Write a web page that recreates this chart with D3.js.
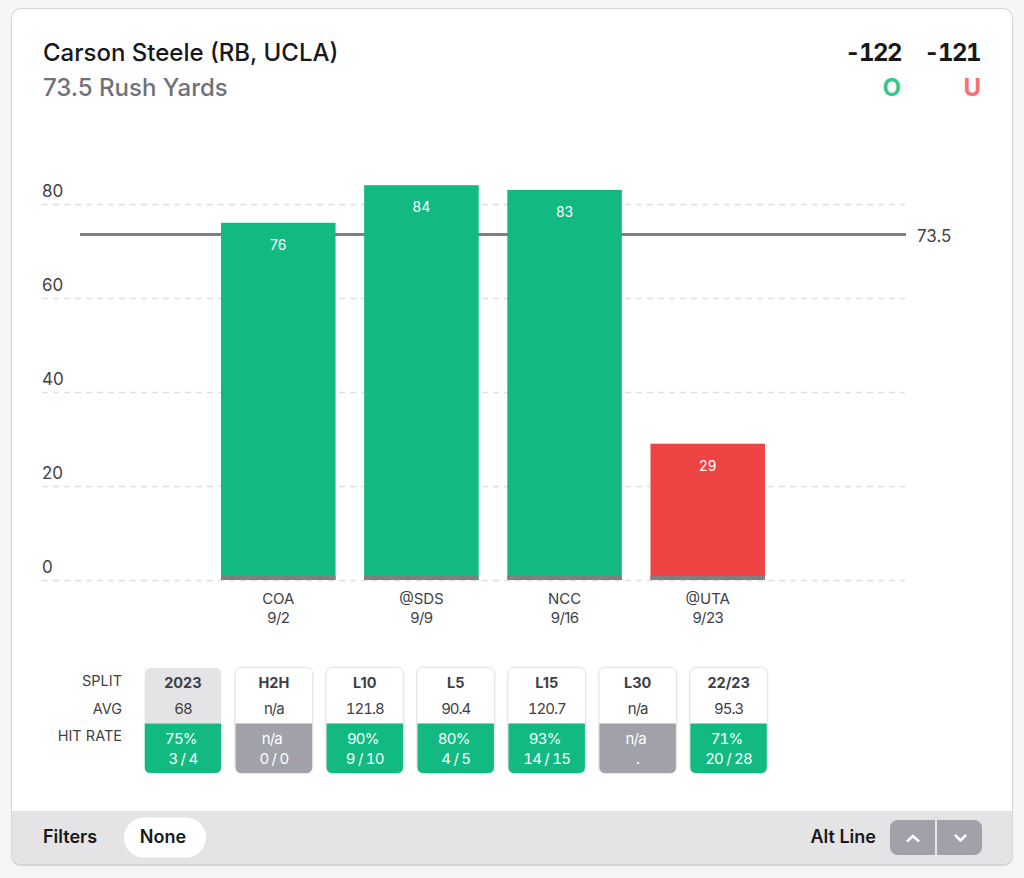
<!DOCTYPE html>
<html>
<head>
<meta charset="utf-8">
<script src="https://cdn.jsdelivr.net/npm/d3@7"></script>
<style>
	html, body { margin: 0; padding: 0; background: #f4f5f5; overflow: hidden; }
	svg { display: block; font-family: Inter, sans-serif; }
	.tab { font-variant-numeric: tabular-nums; }
</style>
</head>
<body>
<div id="chart"></div>
<script>
// Chart data
var opponents = ["COA", "@SDS", "NCC", "@UTA"];
var gameDates = ["9/2", "9/9", "9/16", "9/23"];
var rushYards = [76, 84, 83, 29];
var yTicks = [0, 20, 40, 60, 80];
var propLine = 73.5;

// Split table data
var rowLabels = ["SPLIT", "AVG", "HIT RATE"];
var splits = ["2023", "H2H", "L10", "L5", "L15", "L30", "22/23"];
var averages = ["68", "n/a", "121.8", "90.4", "120.7", "n/a", "95.3"];
var hitRates = ["75%", "n/a", "90%", "80%", "93%", "n/a", "71%"];
var hitCounts = ["3 / 4", "0 / 0", "9 / 10", "4 / 5", "14 / 15", ".", "20 / 28"];

// Width and height of page
var width = 1024;
var height = 878;

var green = "#12ba81";
var red = "#ef4444";
var grey = "#a1a1aa";
var ink = "#18181b";
var mid = "#3f3f46";
var soft = "#71717a";

var svg = d3.select("#chart")
	.append("svg")
	.attr("width", width)
	.attr("height", height);

// Card with shadow, footer clipped to the rounded corners
var defs = svg.append("defs");
defs.append("clipPath").attr("id", "cardClip")
	.append("rect")
	.attr("x", 12).attr("y", 9)
	.attr("width", 1000).attr("height", 855)
	.attr("rx", 9);

svg.append("rect")
	.attr("x", 11).attr("y", 8)
	.attr("width", 1002).attr("height", 858)
	.attr("rx", 10)
	.style("fill", "#d4d4d8");

svg.append("rect")
	.attr("x", 12).attr("y", 9)
	.attr("width", 1000).attr("height", 855)
	.attr("rx", 9)
	.style("fill", "#fff");

svg.append("rect")
	.attr("clip-path", "url(#cardClip)")
	.attr("x", 12).attr("y", 811)
	.attr("width", 1000).attr("height", 55)
	.style("fill", "#e4e4e7");

// Header text
function label(x, y, text, size, weight, color, anchor){
	return svg.append("text")
		.attr("x", x)
		.attr("y", y)
		.attr("text-anchor", anchor || "start")
		.style("font-size", size + "px")
		.style("font-weight", weight)
		.style("fill", color)
		.text(text);
}

label(43, 60.5, "Carson Steele (RB, UCLA)", 24, 500, ink);
label(43, 96, "73.5 Rush Yards", 24, 500, soft);
label(901, 60.5, "-122", 24, 700, ink, "end").attr("class", "tab").style("letter-spacing", "-1.5px");
label(980, 60.5, "-121", 24, 700, ink, "end").attr("class", "tab").style("letter-spacing", "-1.5px");
label(901, 96, "O", 24, 700, "#34c78f", "end");
label(981, 96, "U", 24, 700, "#f87171", "end");

// Scales
var x = d3.scaleBand()
	.domain(opponents)
	.range([221, 765])
	.paddingInner(0.2)
	.paddingOuter(0);

var y = d3.scaleLinear()
	.domain([0, 80])
	.range([580, 204]);

// Y axis: dashed grid lines with the labels sitting above them
var yAxis = svg.append("g")
	.attr("transform", "translate(42,0)")
	.call(d3.axisRight(y).tickValues(yTicks).tickSize(863));

yAxis.select(".domain").remove();
yAxis.selectAll("line")
	.style("stroke", "#dfdfe2")
	.style("stroke-width", 1.5)
	.style("stroke-dasharray", "6 5");
yAxis.selectAll("text")
	.attr("x", 0)
	.attr("dy", -7.5)
	.style("font-family", "Inter, sans-serif")
	.style("font-size", "17px")
	.style("fill", mid);

// Prop line goes under the bars
svg.append("line")
	.attr("x1", 80)
	.attr("x2", 906)
	.attr("y1", y(propLine))
	.attr("y2", y(propLine))
	.style("stroke", "#808080")
	.style("stroke-width", 3);

label(917, y(propLine) + 7, propLine, 17, 400, mid);

// Bars
svg.selectAll("rect.bar")
	.data(rushYards)
	.enter()
	.append("rect")
	.attr("class", "bar")
	.attr("x", function(d, i){ return x(opponents[i]); })
	.attr("y", function(d){ return y(d); })
	.attr("width", x.bandwidth())
	.attr("height", function(d){ return y(0) - y(d); })
	.style("fill", function(d){
		if(d > propLine){
			return green}
		else{
			return red}
	});

// Grey strip along the foot of each bar
svg.selectAll("rect.foot")
	.data(rushYards)
	.enter()
	.append("rect")
	.attr("class", "foot")
	.attr("x", function(d, i){ return x(opponents[i]); })
	.attr("y", y(0) - 4)
	.attr("width", x.bandwidth())
	.attr("height", 4)
	.style("fill", "#808080");

svg.selectAll("text.value")
	.data(rushYards)
	.enter()
	.append("text")
	.attr("class", "value")
	.attr("x", function(d, i){ return x(opponents[i]) + x.bandwidth() / 2; })
	.attr("y", function(d){ return y(d) + 27; })
	.attr("text-anchor", "middle")
	.style("font-size", "14px")
	.style("fill", "#fff")
	.text(function(d){ return d; });

// X axis: opponent and date on two lines
var xAxis = svg.append("g")
	.attr("transform", "translate(0,580)")
	.call(d3.axisBottom(x).tickSize(0));

xAxis.select(".domain").remove();
xAxis.selectAll("text").each(function(d, i){
	var tick = d3.select(this)
		.text(null)
		.attr("y", 0)
		.attr("dy", null)
		.style("font-family", "Inter, sans-serif")
		.style("font-size", "15px")
		.style("fill", mid);
	tick.append("tspan").attr("x", 0).attr("y", 23.5).text(d);
	tick.append("tspan").attr("x", 0).attr("y", 42.5).style("letter-spacing", "-0.6px").text(gameDates[i]);
});

// Split table
var rowY = d3.scalePoint()
	.domain(rowLabels)
	.range([686, 741]);

rowLabels.forEach(function(d){
	label(122, rowY(d), d, 14.5, 400, mid, "end");
});

var splitX = d3.scaleBand()
	.domain(splits)
	.range([143.2, 768.3])
	.paddingInner(0.1266)
	.paddingOuter(0);

var cards = svg.selectAll("g.split")
	.data(splits)
	.enter()
	.append("g")
	.attr("class", "split")
	.attr("transform", function(d){ return "translate(" + splitX(d) + ",0)"; });

cards.each(function(d, i){
	var card = d3.select(this);
	var w = splitX.bandwidth();
	var isFirst = i == 0;
	var isEmpty = hitCounts[i] == "0 / 0" || hitCounts[i] == ".";
	var bottom = isEmpty ? grey : green;

	// Outer border, then white or grey top, then coloured hit rate block
	card.append("rect")
		.attr("x", 0).attr("y", 666.5)
		.attr("width", w).attr("height", 107.5)
		.attr("rx", 8)
		.style("fill", isFirst ? "none" : "#e8e8ea");

	card.append("path")
		.attr("d", roundedTop(1.5, 668, w - 3, 55.5, 6))
		.style("fill", isFirst ? "#e4e4e7" : "#fff");

	card.append("path")
		.attr("d", roundedBottom(1.5, 723.5, w - 3, 49.5, 6))
		.style("fill", bottom);

	var mid2 = w / 2;
	card.append("text")
		.attr("x", mid2).attr("y", 687.5)
		.attr("text-anchor", "middle")
		.style("font-size", "14.5px")
		.style("font-weight", 700)
		.style("fill", mid)
		.text(d);

	card.append("text")
		.attr("class", "tab")
		.attr("x", mid2).attr("y", 713.5)
		.attr("text-anchor", "middle")
		.style("font-size", "15px")
		.style("letter-spacing", "-1px")
		.style("fill", mid)
		.text(averages[i]);

	card.append("text")
		.attr("class", "tab")
		.attr("x", mid2 - 2).attr("y", 743.5)
		.attr("text-anchor", "middle")
		.style("font-size", "15px")
		.style("letter-spacing", "-0.8px")
		.style("fill", "#fff")
		.text(hitRates[i]);

	card.append("text")
		.attr("class", "tab")
		.attr("x", mid2).attr("y", 763.5)
		.attr("text-anchor", "middle")
		.style("font-size", "15px")
		.style("letter-spacing", "-0.8px")
		.style("fill", "#fff")
		.text(hitCounts[i]);
});

function roundedTop(px, py, w, h, r){
	return "M" + px + "," + (py + h) + "V" + (py + r) + "Q" + px + "," + py + " " + (px + r) + "," + py +
		"H" + (px + w - r) + "Q" + (px + w) + "," + py + " " + (px + w) + "," + (py + r) + "V" + (py + h) + "Z";
}

function roundedBottom(px, py, w, h, r){
	return "M" + px + "," + py + "H" + (px + w) + "V" + (py + h - r) + "Q" + (px + w) + "," + (py + h) + " " + (px + w - r) + "," + (py + h) +
		"H" + (px + r) + "Q" + px + "," + (py + h) + " " + px + "," + (py + h - r) + "Z";
}

// Footer
label(43, 843, "Filters", 18, 600, ink);

svg.append("rect")
	.attr("x", 124).attr("y", 817.5)
	.attr("width", 82).attr("height", 40)
	.attr("rx", 20)
	.style("fill", "#fff");

label(163, 843, "None", 18, 600, ink, "middle");
label(876, 843, "Alt Line", 18, 600, ink, "end");

svg.append("rect")
	.attr("x", 890).attr("y", 820)
	.attr("width", 92).attr("height", 35)
	.attr("rx", 8)
	.style("fill", grey);

svg.append("line")
	.attr("x1", 936).attr("x2", 936)
	.attr("y1", 820).attr("y2", 855)
	.style("stroke", "#fff")
	.style("stroke-width", 1.5);

// Chevrons
var chevron = d3.line();
[[[907, 841.5], [913, 836], [919, 841.5]], [[955, 835], [960.5, 840.5], [966, 835]]].forEach(function(pts){
	svg.append("path")
		.attr("d", chevron(pts))
		.style("fill", "none")
		.style("stroke", "#fff")
		.style("stroke-width", 2.5);
});
</script>
</body>
</html>
